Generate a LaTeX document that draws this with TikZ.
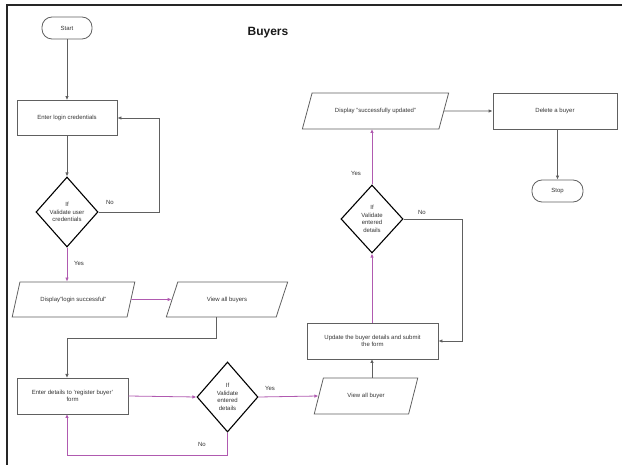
\documentclass[tikz,border=0pt]{standalone}
\usepackage{fontspec}
\setmainfont{Liberation Sans}
\usetikzlibrary{shapes.geometric,arrows.meta}
\definecolor{lineg}{HTML}{606060}
\definecolor{linep}{HTML}{B05AB0}
\definecolor{txt}{HTML}{333333}
\tikzset{
  base/.style={font=\fontsize{6}{7.5}\selectfont, text=txt, align=center, inner sep=1pt},
  box/.style={base, draw=lineg, line width=0.8pt, rectangle, minimum width=#1, minimum height=36},
  term/.style={base, draw=lineg, line width=0.8pt, rounded corners=10pt, minimum width=50, minimum height=22},
  para/.style={base, draw=lineg, line width=0.8pt, trapezium, trapezium stretches=true, trapezium left angle=#1, trapezium right angle=180-#1, minimum height=35},
  dec/.style={base, draw=black, line width=1.1pt, diamond, inner sep=0pt, minimum width=62, minimum height=70},
  arr/.style={draw=lineg, line width=0.8pt, -{Latex[length=4pt,width=3.5pt]}},
  arrp/.style={arr, draw=linep},
  lbl/.style={font=\fontsize{6}{7}\selectfont, text=txt, inner sep=0pt},
}
\begin{document}
\begin{tikzpicture}[x=1pt,y=-1pt]
\useasboundingbox (0,0) rectangle (622,465);
% frame
\draw[line width=2.2pt, black!85] (7,465) -- (7,5) -- (622,5);
% title
\node[font=\bfseries\fontsize{12}{14}\selectfont, text=black!90] (title) at (268,33) {Buyers};
% nodes
\node[term] (start) at (67,28) {Start};
\node[box=100, minimum height=35] (login) at (67,118) {Enter login credentials};
\node[dec] (d1) at (67,212) {If\\Validate user\\credentials};
\node[para=57, minimum width=123] (disp1) at (73.5,299.5) {Display"login successful"};
\node[para=57, minimum width=122] (view1) at (227,299.5) {View all buyers};
\node[box=111] (details) at (72.5,396) {Enter details to 'register buyer'\\form};
\node[dec, minimum width=61] (d2) at (227.5,397) {If\\Validate\\entered\\details};
\node[para=61, minimum width=104, minimum height=36] (view2) at (366,396) {View all buyer};
\node[box=131] (update) at (372.5,341) {Update the buyer details and submit\\the form};
\node[dec, minimum height=68] (d3) at (372,219) {If\\Validate\\entered\\details};
\node[para=50, minimum width=147, minimum height=36] (disp2) at (375.5,111) {Display "successfully updated"};
\node[box=124] (delete) at (555,111) {Delete a buyer};
\node[term, minimum width=51] (stop) at (557.5,191) {Stop};
% connectors
\draw[arr] (start) -- (login);
\draw[arr] (login) -- (d1);
\draw[arr] (d1.east) -- (159,212) -- (159,118) -- (login.east);
\node[lbl] (no1) at (110,202) {No};
\draw[arrp] (d1.south) -- (d1.south |- disp1.north);
\node[lbl] (yes1) at (79,263) {Yes};
\draw[arrp] (disp1.east) -- (view1.west);
\draw[arr] (216,317) -- (216,338) -- (67,338) -- (67,378);
\draw[arrp] (details.east) -- (d2.west);
\draw[arrp] (d2.east) -- (view2.west);
\node[lbl] (yes2) at (270,388) {Yes};
\draw[arrp] (d2.south) -- (227.5,455) -- (67,455) -- (67,414);
\node[lbl] (no2) at (202,444) {No};
\draw[arr] (372,378) -- (372,359);
\draw[arrp] (update.north -| d3.south) -- (d3.south);
\draw[arrp] (d3.north) -- (372,129);
\node[lbl] (yes3) at (356,173) {Yes};
\draw[arr] (d3.east) -- (462,219) -- (462,341) -- (update.east);
\node[lbl] (no3) at (422,212) {No};
\draw[arr] (disp2.east) -- (delete.west);
\draw[arr] (delete.south -| stop.north) -- (stop.north);
\end{tikzpicture}
\end{document}
